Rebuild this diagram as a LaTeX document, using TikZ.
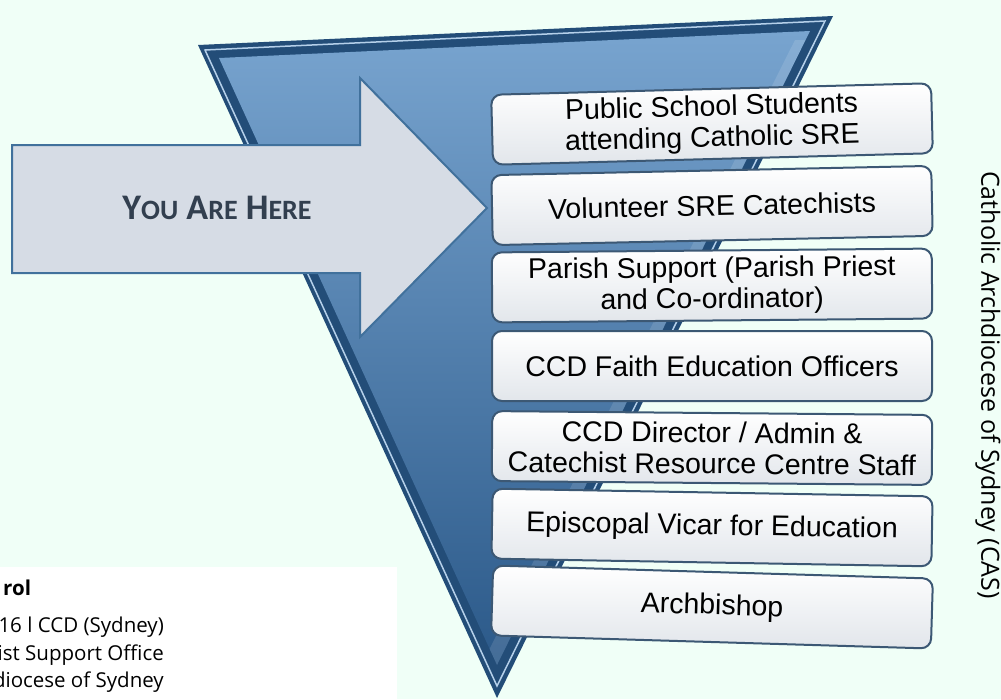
\documentclass[tikz,border=0pt]{standalone}
\usepackage{fontspec}
\setmainfont{Liberation Sans}
\newfontfamily\notefont{Open Sans}
\newfontfamily\herefont{Carlito}
\usetikzlibrary{positioning}
\definecolor{bgmint}{HTML}{F0FFF7}
\definecolor{funnelrim}{HTML}{234D78}
\definecolor{funnelshine}{HTML}{B5D0EA}
\definecolor{funneltop}{HTML}{78A4CF}
\definecolor{funnelbot}{HTML}{2B5989}
\definecolor{stageedge}{HTML}{3C5874}
\definecolor{stagegray}{HTML}{E2E6EB}
\definecolor{arrowfill}{HTML}{D6DCE5}
\definecolor{arrowedge}{HTML}{41719C}
\definecolor{heretext}{HTML}{323F4F}
\newcommand{\hereBig}[1]{{\fontsize{36}{36}\selectfont #1}}
\newcommand{\hereSmall}[1]{{\fontsize{28}{28}\selectfont #1}}

\begin{document}
\begin{tikzpicture}[x=1pt,y=-1pt,
    stage/.style={draw=stageedge, line width=2pt, rounded corners=10pt,
      top color=white, bottom color=stagegray, minimum width=440pt,
      minimum height=70pt, inner sep=0pt, align=center,
      font=\fontsize{28.5}{31}\selectfont},
    note/.style={font=\notefont\fontsize{20.5}{20}\selectfont, inner sep=0pt}]
  \fill[bgmint] (0,0) rectangle (1001,699);
  \useasboundingbox (0,0) rectangle (1001,699);

  % note box, bottom left
  \fill[white] (0,567) rectangle (397,699);
  \node[note, anchor=base west, font=\notefont\bfseries\fontsize{20.5}{20}\selectfont] (ctl) at (3,595) {rol};
  \node[note, anchor=base east] (ver) at (164,632) {16 l CCD (Sydney)};
  \node[note, anchor=base east] (off) at (164,660) {ist Support Office};
  \node[note, anchor=base east] (arch) at (164,687) {diocese of Sydney};

  % funnel
  \fill[funnelrim] (198,45) -- (833,16) -- (497,698) -- cycle;
  \draw[funnelshine, line width=1.5pt] (205,50) -- (825,21) -- (497,686) -- cycle;
  \shade[top color=funneltop, bottom color=funnelbot] (219,58) -- (810,31) -- (497,665) -- cycle;
  \begin{scope}
    \clip (219,58) -- (810,31) -- (497,665) -- cycle;
    \fill[white, opacity=0.12] (795,40) -- (815,40) -- (485,698) -- (465,698) -- cycle;
  \end{scope}

  % arrow
  \draw[fill=arrowfill, draw=arrowedge, line width=2pt, line join=miter]
    (12,145) -- (360,145) -- (360,78) -- (487,208) -- (360,337) -- (360,273) -- (12,273) -- cycle;
  \node[text=heretext, font=\herefont\bfseries\fontsize{36}{36}\selectfont] (here) at (217,208)
    {\hereBig{Y}\hereSmall{OU} \hereBig{A}\hereSmall{RE} \hereBig{H}\hereSmall{ERE}};

  % stages
  \node[stage, rotate=1.5] (pupils) at (712,124) {Public School Students\\attending Catholic SRE};
  \node[stage, rotate=1.2] (catechists) at (712,205.5) {Volunteer SRE Catechists};
  \node[stage, rotate=0.5] (parish) at (712,285.5) {Parish Support (Parish Priest\\and Co-ordinator)};
  \node[stage] (officers) at (712,366) {CCD Faith Education Officers};
  \node[stage, rotate=-0.5] (director) at (712,448) {CCD Director / Admin \&\\Catechist Resource Centre Staff};
  \node[stage, rotate=-1] (vicar) at (712,527.5) {Episcopal Vicar for Education};
  \node[stage, rotate=-1.7] (bishop) at (712,607) {Archbishop};

  \node[rotate=-90, font=\notefont\fontsize{25}{25}\selectfont] (cas) at (988,385)
    {Catholic Archdiocese of Sydney (CAS)};
\end{tikzpicture}
\end{document}
